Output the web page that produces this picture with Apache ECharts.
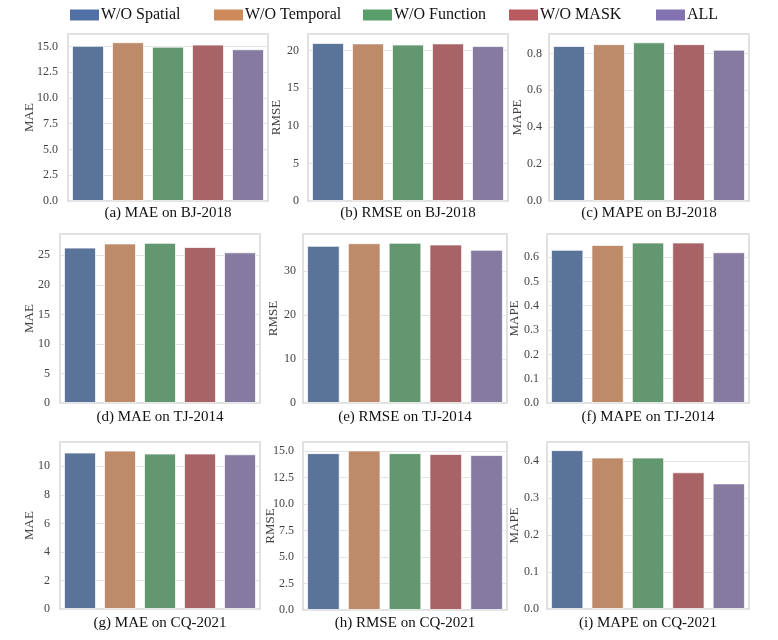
<!DOCTYPE html>
<html><head><meta charset="utf-8">
<script src="https://cdn.jsdelivr.net/npm/echarts@6/dist/echarts.min.js"></script>
<style>html,body{margin:0;padding:0;background:#fff}#c{width:778px;height:640px}</style>
</head><body><div id="c"></div>
<script>
// ---- data ----
const categories = ['W/O Spatial', 'W/O Temporal', 'W/O Function', 'W/O MASK', 'ALL'];
const maeBJ  = [15.05, 15.4, 14.97, 15.17, 14.72];
const rmseBJ = [21.0, 20.95, 20.8, 20.95, 20.6];
const mapeBJ = [0.84, 0.85, 0.86, 0.85, 0.82];
const maeTJ  = [26.3, 27.0, 27.1, 26.4, 25.5];
const rmseTJ = [35.8, 36.4, 36.5, 36.1, 34.9];
const mapeTJ = [0.63, 0.65, 0.66, 0.66, 0.62];
const maeCQ  = [10.96, 11.1, 10.89, 10.89, 10.84];
const rmseCQ = [14.8, 15.05, 14.8, 14.72, 14.62];
const mapeCQ = [0.43, 0.41, 0.41, 0.37, 0.34];
const panelTitles = ['(a) MAE on BJ-2018', '(b) RMSE on BJ-2018', '(c) MAPE on BJ-2018',
                     '(d) MAE on TJ-2014', '(e) RMSE on TJ-2014', '(f) MAPE on TJ-2014',
                     '(g) MAE on CQ-2021', '(h) RMSE on CQ-2021', '(i) MAPE on CQ-2021'];
const axisNames = ['MAE', 'RMSE', 'MAPE', 'MAE', 'RMSE', 'MAPE', 'MAE', 'RMSE', 'MAPE'];
const yMax   = [16.2, 22.2, 0.905, 28.6, 38.5, 0.695, 11.7, 15.85, 0.452];
const yStep  = [2.5, 5, 0.2, 5, 10, 0.1, 2, 2.5, 0.1];
const yDec   = [1, 0, 1, 0, 0, 1, 0, 1, 1];
const panelData = [maeBJ, rmseBJ, mapeBJ, maeTJ, rmseTJ, mapeTJ, maeCQ, rmseCQ, mapeCQ];

// ---- styling / layout ----
const barColors = ['#5a7399', '#bd8a6a', '#63976f', '#a86367', '#857ba1'];
const legendColors = ['#5070a6', '#cf8a5c', '#5a9e6c', '#b85a5f', '#8273b0'];
const grids = [
  [68, 34, 200, 167], [308, 34, 200, 167], [549, 34, 200, 167],
  [60, 234, 200, 169], [303, 234, 204, 169], [547, 234, 202, 169],
  [60, 442, 200, 167], [303, 442, 204, 168], [547, 442, 202, 167]
];
const labelMargins = [10, 9, 7, 10, 7, 8, 10, 9, 8];
const nameGaps = [32, 25, 25, 24, 23, 26, 24, 26, 26];
const titleTops = [204, 204, 204, 408, 408, 408, 614, 614, 614];
const legendLefts = [70, 214, 363, 509, 656];
const serif = '"Liberation Serif", "DejaVu Serif", serif';

const option = {
  backgroundColor: '#fff',
  animation: false,
  title: panelTitles.map((t, i) => ({
    text: t,
    left: grids[i][0] + grids[i][2] / 2,
    top: titleTops[i],
    textAlign: 'center',
    padding: 0,
    textStyle: { fontFamily: serif, fontSize: 15, fontWeight: 'normal', color: '#111', lineHeight: 18 }
  })),
  legend: categories.map((c, j) => ({
    data: [c],
    left: legendLefts[j],
    top: 7,
    icon: 'rect',
    itemWidth: 29,
    itemHeight: 11,
    padding: 0,
    selectedMode: false,
    itemStyle: { opacity: 1 },
    textStyle: { fontFamily: serif, fontSize: 16, color: '#111', padding: [0, 0, 0, -3] }
  })),
  grid: grids.map(g => ({
    left: g[0], top: g[1], width: g[2], height: g[3],
    show: true, borderColor: '#d6d6d6', borderWidth: 1.5, containLabel: false
  })),
  xAxis: grids.map((g, i) => ({
    type: 'category', gridIndex: i, data: categories,
    axisLabel: { show: false }, axisTick: { show: false }, axisLine: { show: false }
  })),
  yAxis: grids.map((g, i) => ({
    type: 'value', gridIndex: i, min: 0, max: yMax[i], interval: yStep[i],
    name: axisNames[i], nameLocation: 'middle', nameGap: nameGaps[i],
    nameMoveOverlap: false,
    nameTextStyle: { fontFamily: serif, fontSize: 13, color: '#444' },
    axisLine: { show: false }, axisTick: { show: false },
    axisLabel: {
      fontFamily: serif, fontSize: 12, color: '#444', margin: labelMargins[i],
      showMaxLabel: false,
      formatter: v => Number(v).toFixed(yDec[i])
    },
    splitLine: { show: true, lineStyle: { color: '#e4e4e4', width: 1.2 } }
  })),
  series: [
    ...panelData.map((arr, i) => ({
      type: 'bar', xAxisIndex: i, yAxisIndex: i, silent: true,
      barCategoryGap: '20%',
      data: arr.map((v, j) => ({ value: v, itemStyle: { color: barColors[j] } })),
      itemStyle: { borderColor: 'rgba(255,255,255,0.7)', borderWidth: 1 }
    })),
    ...categories.map((c, j) => ({
      type: 'scatter', name: c, xAxisIndex: 0, yAxisIndex: 0, data: [],
      itemStyle: { color: legendColors[j], opacity: 1 }
    }))
  ]
};
const chart = echarts.init(document.getElementById('c'), null, { renderer: 'canvas' });
chart.setOption(option);
</script></body></html>
